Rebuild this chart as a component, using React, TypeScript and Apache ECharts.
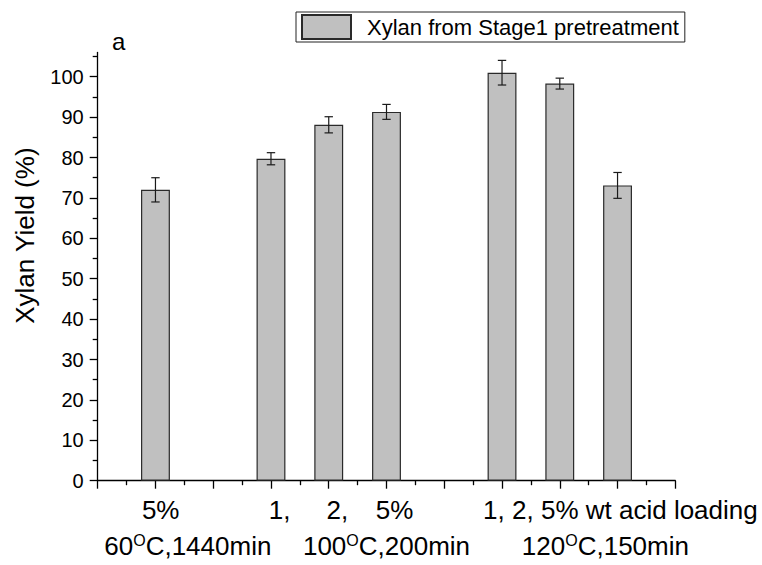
import React, { useEffect, useRef } from 'react';
import * as echarts from 'echarts';

// Stage 1 pretreatment conditions, placed on a 0–10 position scale
const positions = [1, 3, 4, 5, 7, 8, 9];
const yields = [72.0, 79.7, 88.1, 91.3, 101.0, 98.3, 73.1];
const errors = [3.0, 1.5, 2.0, 1.85, 3.05, 1.35, 3.2];

// acid loading labels (first label row) and where they sit on the position scale
const loadingLabels = ['5%', '1,', '2,', '5%', '1, 2, 5% wt acid loading'];
const loadingLabelPos = [1.09, 3.15, 4.15, 5.14, 9.05];

// temperature / time labels (second label row)
const conditionTemps = ['60', '100', '120'];
const conditionTimes = ['1440min', '200min', '150min'];
const conditionLabelPos = [1.56, 5.0, 8.79];

const yMajorTicks = [0, 10, 20, 30, 40, 50, 60, 70, 80, 90, 100];
const yMinorTicks = [5, 15, 25, 35, 45, 55, 65, 75, 85, 95, 105];

const seriesName = 'Xylan from Stage1 pretreatment';
const FONT = 'Arial, "Liberation Sans", Helvetica, sans-serif';

function nearestIndex(list: number[], v: number) {
  let best = 0;
  for (let i = 1; i < list.length; i++) {
    if (Math.abs(list[i] - v) < Math.abs(list[best] - v)) best = i;
  }
  return best;
}

export default function App() {
  const ref = useRef<HTMLDivElement>(null);

  useEffect(() => {
    if (!ref.current) return;
    const chart = echarts.init(ref.current, undefined, { renderer: 'svg' });

    const axisLineStyle = { color: '#000', width: 1.3 };

    const option: any = {
      animation: false,
      backgroundColor: '#fff',
      textStyle: { fontFamily: FONT },
      title: {
        text: 'a',
        left: 112,
        top: 29,
        padding: 0,
        textStyle: { fontFamily: FONT, fontSize: 24, fontWeight: 'normal', color: '#000' },
      },
      legend: {
        data: [seriesName],
        left: 296,
        top: 12,
        orient: 'horizontal',
        padding: [2, 6, 2, 5],
        itemWidth: 49,
        itemHeight: 24,
        borderColor: '#222',
        borderWidth: 1,
        icon: 'rect',
        selectedMode: false,
        textStyle: {
          fontFamily: FONT,
          fontSize: 22,
          lineHeight: 24,
          color: '#000',
          padding: [0, 0, 0, 11],
        },
      },
      grid: {
        left: 97.7,
        right: 86.7,
        top: 52.5,
        bottom: 84.3,
        containLabel: false,
      },
      xAxis: [
        {
          type: 'value',
          min: 0,
          max: 10,
          interval: 1,
          position: 'bottom',
          axisLine: { show: true, onZero: false, lineStyle: axisLineStyle },
          axisTick: { show: true, inside: false, length: 8, lineStyle: axisLineStyle },
          minorTick: { show: true, splitNumber: 2, length: 4.5, lineStyle: axisLineStyle },
          splitLine: { show: false },
          minorSplitLine: { show: false },
          axisLabel: {
            show: true,
            customValues: loadingLabelPos,
            margin: 16,
            fontFamily: FONT,
            fontSize: 26,
            color: '#000',
            formatter: (v: number) => loadingLabels[nearestIndex(loadingLabelPos, v)],
          },
        },
        {
          type: 'value',
          min: 0,
          max: 10,
          interval: 1,
          position: 'bottom',
          axisLine: { show: false },
          axisTick: { show: false },
          splitLine: { show: false },
          axisLabel: {
            show: true,
            customValues: conditionLabelPos,
            margin: 52,
            fontFamily: FONT,
            fontSize: 26,
            color: '#000',
            formatter: (v: number) => {
              const i = nearestIndex(conditionLabelPos, v);
              return `${conditionTemps[i]}{sup|O}C,${conditionTimes[i]}`;
            },
            rich: {
              sup: { fontFamily: FONT, fontSize: 16, lineHeight: 16, verticalAlign: 'top', color: '#000' },
            },
          },
        },
      ],
      yAxis: [
        {
          type: 'value',
          min: 0,
          max: 106,
          interval: 10,
          position: 'left',
          name: 'Xylan Yield (%)',
          nameLocation: 'middle',
          nameGap: 60,
          nameTextStyle: {
            fontFamily: FONT,
            fontSize: 26,
            color: '#000',
            padding: [0, 0, 0, 62],
          },
          axisLine: { show: true, onZero: false, lineStyle: axisLineStyle },
          axisTick: { show: true, inside: false, length: 8, customValues: yMajorTicks, lineStyle: axisLineStyle },
          splitLine: { show: false },
          axisLabel: {
            show: true,
            customValues: yMajorTicks,
            margin: 14,
            fontFamily: FONT,
            fontSize: 20,
            color: '#000',
          },
        },
        {
          type: 'value',
          min: 0,
          max: 106,
          interval: 10,
          position: 'left',
          axisLine: { show: false },
          axisTick: { show: true, inside: false, length: 5, customValues: yMinorTicks, lineStyle: axisLineStyle },
          axisLabel: { show: false },
          splitLine: { show: false },
        },
      ],
      series: [
        {
          name: seriesName,
          type: 'bar',
          xAxisIndex: 0,
          yAxisIndex: 0,
          barWidth: '50%',
          data: positions.map((p, i) => [p, yields[i]]),
          itemStyle: { color: '#c0c0c0', borderColor: '#2a2a2a', borderWidth: 1.2 },
          z: 2,
        },
        {
          name: 'error',
          type: 'custom',
          xAxisIndex: 0,
          yAxisIndex: 0,
          encode: { x: 0, y: 1 },
          data: positions.map((p, i) => [p, yields[i], errors[i]]),
          z: 3,
          renderItem: (_params: any, api: any) => {
            const x = api.value(0);
            const y = api.value(1);
            const e = api.value(2);
            const top = api.coord([x, y + e]);
            const bot = api.coord([x, y - e]);
            const hw = 4.2;
            const style = { stroke: '#1a1a1a', lineWidth: 1.2, fill: 'none' };
            return {
              type: 'group',
              children: [
                { type: 'line', shape: { x1: top[0], y1: top[1], x2: bot[0], y2: bot[1] }, style },
                { type: 'line', shape: { x1: top[0] - hw, y1: top[1], x2: top[0] + hw, y2: top[1] }, style },
                { type: 'line', shape: { x1: bot[0] - hw, y1: bot[1], x2: bot[0] + hw, y2: bot[1] }, style },
              ],
            };
          },
        },
      ],
    };

    chart.setOption(option);
    return () => chart.dispose();
  }, []);

  return (
    <div
      ref={ref}
      style={{ position: 'fixed', left: 0, top: 0, width: 762, height: 565, background: '#fff' }}
    />
  );
}
